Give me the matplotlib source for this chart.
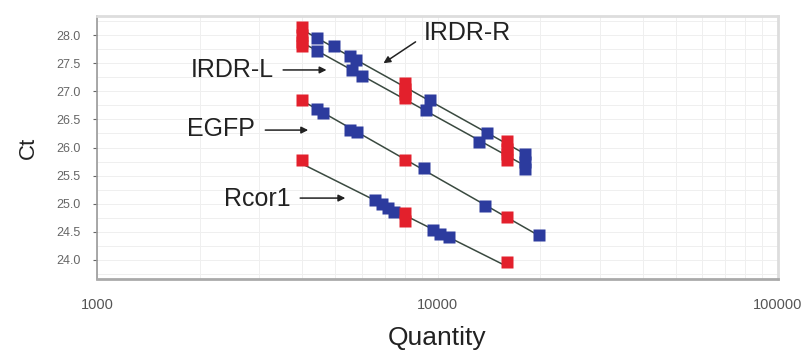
import numpy as np
import matplotlib
matplotlib.use("Agg")
import matplotlib.pyplot as plt
from matplotlib.ticker import FixedLocator, LogLocator, NullFormatter, MultipleLocator

plt.rcParams['font.family'] = ['Liberation Sans', 'DejaVu Sans']

# standards (red) and unknowns (blue) for each target
names = ["IRDR-R", "IRDR-L", "EGFP", "Rcor1"]

irdr_r_std_q = [4000, 4000, 8000, 8000, 16000, 16000]
irdr_r_std_ct = [28.15, 28.00, 27.15, 27.05, 26.12, 25.98]
irdr_r_unk_q = [4440, 4980, 5550, 5750, 9530, 14000, 18100]
irdr_r_unk_ct = [27.95, 27.80, 27.62, 27.55, 26.84, 26.26, 25.88]

irdr_l_std_q = [4000, 4000, 8000, 8000, 16000, 16000]
irdr_l_std_ct = [27.88, 27.80, 26.95, 26.88, 25.88, 25.78]
irdr_l_unk_q = [4440, 5620, 6020, 9220, 13200, 18100, 18100]
irdr_l_unk_ct = [27.72, 27.38, 27.27, 26.67, 26.10, 25.74, 25.62]

egfp_std_q = [4000, 8000, 16000]
egfp_std_ct = [26.84, 25.78, 24.76]
egfp_unk_q = [4440, 4620, 5550, 5820, 9100, 13800, 19800]
egfp_unk_ct = [26.68, 26.62, 26.32, 26.28, 25.63, 24.96, 24.44]

rcor1_std_q = [4000, 8000, 8000, 16000]
rcor1_std_ct = [25.78, 24.83, 24.70, 23.96]
rcor1_unk_q = [6570, 6890, 7170, 7470, 9670, 10200, 10800]
rcor1_unk_ct = [25.06, 24.99, 24.92, 24.86, 24.53, 24.46, 24.40]

series = [
    (irdr_r_std_q, irdr_r_std_ct, irdr_r_unk_q, irdr_r_unk_ct),
    (irdr_l_std_q, irdr_l_std_ct, irdr_l_unk_q, irdr_l_unk_ct),
    (egfp_std_q, egfp_std_ct, egfp_unk_q, egfp_unk_ct),
    (rcor1_std_q, rcor1_std_ct, rcor1_unk_q, rcor1_unk_ct),
]

# label text position and arrow (tail, tip) in data coords
label_pos = [(12250, 28.04), (2495, 27.38), (2310, 26.33), (2960, 25.08)]
arrow_tail = [(8620, 27.88), (3520, 27.38), (3120, 26.31), (3950, 25.10)]
arrow_tip = [(6940, 27.50), (4720, 27.38), (4170, 26.31), (5360, 25.10)]

red = '#e3202c'
blue = '#2c3b9e'

fig = plt.figure(figsize=(8.1, 3.51), dpi=100)
ax = fig.add_axes([0.1198, 0.2051, 0.8407, 0.7493])

for sq, sc, uq, uc in series:
    allq = np.array(sq + uq, dtype=float)
    allc = np.array(sc + uc, dtype=float)
    # standard curve fitted over log quantity
    k, b = np.polyfit(np.log10(allq), allc, 1)
    xs = np.array([allq.min(), allq.max()])
    ax.plot(xs, k * np.log10(xs) + b, color='#3a4a40', lw=1.1, zorder=2)
    ax.plot(uq, uc, 's', color=blue, ms=9, mec='none', zorder=3)
    ax.plot(sq, sc, 's', color=red, ms=9, mec='none', zorder=4)

for name, pos, tail, tip in zip(names, label_pos, arrow_tail, arrow_tip):
    ax.text(pos[0], pos[1], name, fontsize=18, ha='center', va='center',
            color='#222222', zorder=5)
    ax.annotate('', xy=tip, xytext=tail,
                arrowprops=dict(arrowstyle='-|>', color='#222222', lw=1.1,
                                mutation_scale=10, shrinkA=0, shrinkB=0),
                zorder=5)

ax.set_xscale('log')
ax.set_xlim(1000, 100000)
ax.set_ylim(23.66, 28.34)

ax.xaxis.set_major_locator(FixedLocator([1000, 10000, 100000]))
ax.set_xticklabels(['1000', '10000', '100000'])
ax.xaxis.set_minor_locator(LogLocator(base=10, subs=np.arange(2, 10)))
ax.xaxis.set_minor_formatter(NullFormatter())
ax.yaxis.set_major_locator(MultipleLocator(0.5))
ax.yaxis.set_minor_locator(MultipleLocator(0.25))
ax.yaxis.set_major_formatter(matplotlib.ticker.FormatStrFormatter('%.1f'))

ax.grid(True, which='both', color='#efefef', lw=0.7)
ax.set_axisbelow(True)

ax.tick_params(axis='y', labelsize=9, colors='#666666', length=3, width=0.8, pad=9)
ax.tick_params(axis='x', labelsize=10.5, colors='#555555', length=0, pad=14)
ax.tick_params(which='minor', length=0)

for s in ['top', 'right']:
    ax.spines[s].set_color('#dddddd')
    ax.spines[s].set_linewidth(2)
ax.spines['left'].set_color('#999999')
ax.spines['left'].set_linewidth(1.2)
ax.spines['bottom'].set_color('#aaaaaa')
ax.spines['bottom'].set_linewidth(2)

ax.set_ylabel('Ct', fontsize=16, color='#222222', labelpad=12)
ax.set_xlabel('Quantity', fontsize=19, color='#222222', labelpad=10)

fig.savefig('out.png', dpi=100)
